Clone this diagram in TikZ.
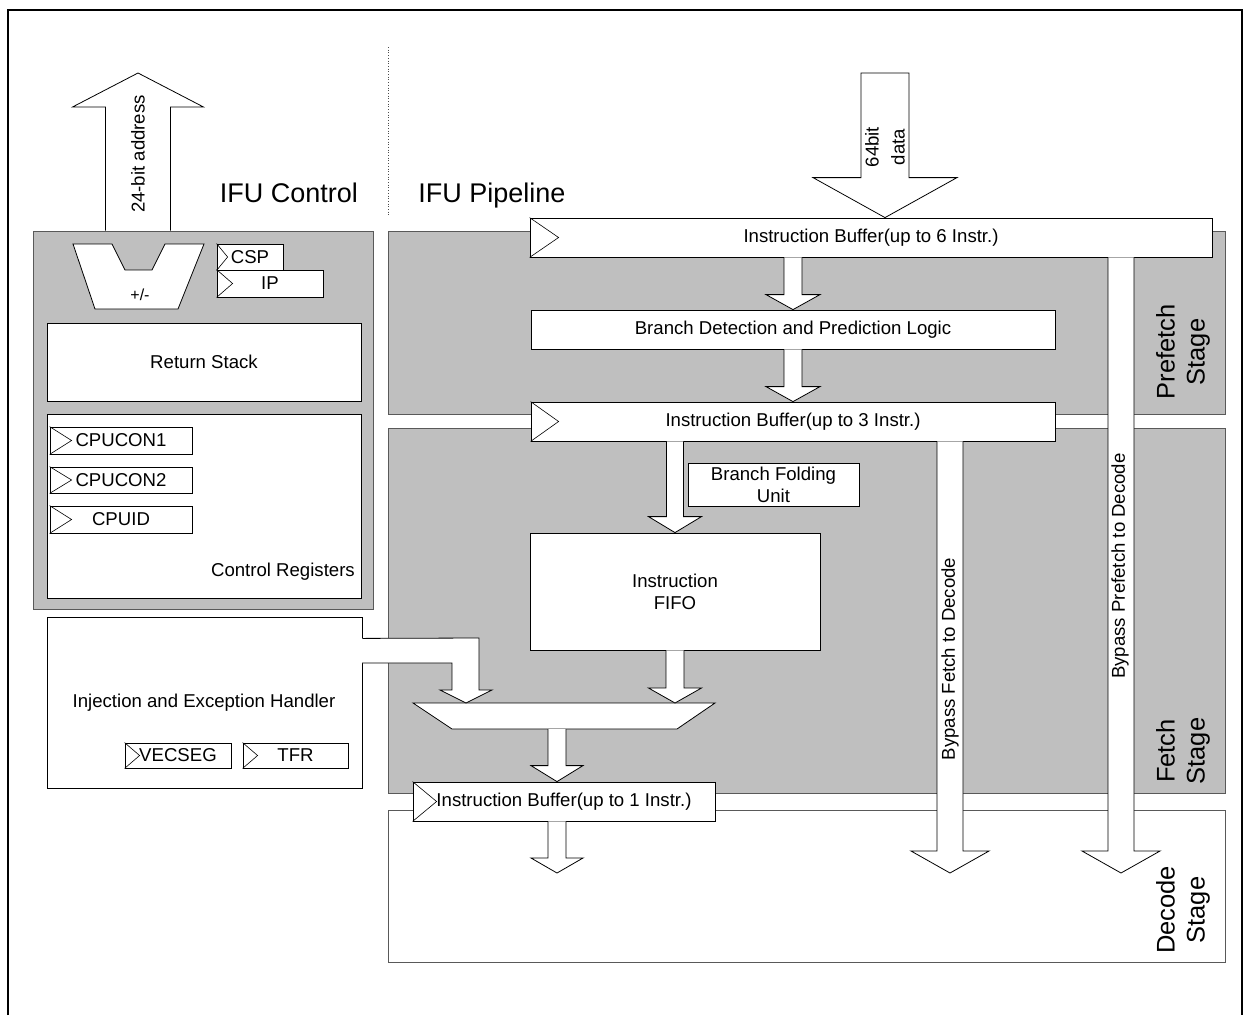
\documentclass[tikz,border=0pt]{standalone}
\usepackage{fontspec}
\setmainfont{Liberation Sans}
\usetikzlibrary{calc}
\newcommand\blockdown[5]{%
  \path[barrow] let \p1=#1, \p2=#2 in
   (\x2-#3pt,\y1) -- (\x2-#3pt,\y2+#5pt) -- (\x2-#4pt,\y2+#5pt) -- (\x2,\y2)
   -- (\x2+#4pt,\y2+#5pt) -- (\x2+#3pt,\y2+#5pt) -- (\x2+#3pt,\y1);}
\newcommand\blockdownc[5]{%
  \path[barrow] let \p1=#1, \p2=#2 in
   (\x2-#3pt,\y1) -- (\x2-#3pt,\y2+#5pt) -- (\x2-#4pt,\y2+#5pt) -- (\x2,\y2)
   -- (\x2+#4pt,\y2+#5pt) -- (\x2+#3pt,\y2+#5pt) -- (\x2+#3pt,\y1) -- cycle;}
\newcommand\blockup[5]{%
  \path[barrow] let \p1=#1, \p2=#2 in
   (\x2-#3pt,\y1) -- (\x2-#3pt,\y2-#5pt) -- (\x2-#4pt,\y2-#5pt) -- (\x2,\y2)
   -- (\x2+#4pt,\y2-#5pt) -- (\x2+#3pt,\y2-#5pt) -- (\x2+#3pt,\y1);}
\newcommand\clk[2]{\draw[line width=0.6pt] (#1.north west) -- ($(#1.west)+(#2,0)$) -- (#1.south west);}
\begin{document}
\begin{tikzpicture}[x=1pt,y=-1pt,
  every node/.style={font=\fontsize{18.6}{22}\selectfont, inner sep=0pt},
  wbox/.style={draw=black, fill=white, line width=0.8pt},
  gbox/.style={draw=black!65, fill=black!25, line width=0.8pt},
  barrow/.style={draw=black, fill=white, line width=0.8pt, line join=miter},
  bigtxt/.style={font=\fontsize{27}{30}\selectfont, anchor=base},
  stagelbl/.style={font=\fontsize{25.5}{30}\selectfont, rotate=90, align=center},
  rotlbl/.style={rotate=90, align=center},
]
\useasboundingbox (0,0) rectangle (1244,1015);
% outer frame
\draw[line width=2pt] (8,1015) -- (8,10) -- (1242,10) -- (1242,1015);
\draw[dotted, line width=0.7pt, black!70] (388,47) -- (388,217);

% stage / region boxes
\node[gbox, minimum width=340, minimum height=378] (ctrl) at (203,420) {};
\node[gbox, minimum width=837, minimum height=183] (prefetch) at (806.5,322.5) {};
\node[gbox, minimum width=837, minimum height=365] (fetch) at (806.5,610.5) {};
\node[draw=black!65, fill=white, line width=0.8pt, minimum width=837, minimum height=152] (decode) at (806.5,886) {};

% titles
\node[bigtxt] (ifuc) at (289,202) {IFU Control};
\node[bigtxt] (ifup) at (492,202) {IFU Pipeline};

% address arrow
\coordinate (addrtip) at (138,73);
\blockup{(addrtip |- ctrl.north)}{(addrtip)}{32.5}{65.5}{34}
\node[rotlbl] (addrlbl) at (138,154) {24-bit address};

% +/- unit
\draw[barrow] (73,244) -- (112,244) -- (125,270) -- (152,270) -- (165,244) -- (204,244) -- (178,309) -- (95,309) -- cycle;
\node[font=\fontsize{16}{18}\selectfont] (pm) at (140,295) {+/-};

% CSP / IP
\node[wbox, minimum width=66, minimum height=26] (csp) at (250,257) {CSP};
\node[wbox, minimum width=106, minimum height=27] (ip) at (270,283.5) {IP};
\clk{csp}{11}
\clk{ip}{16}

% return stack and control registers
\node[wbox, minimum width=314, minimum height=78] (rs) at (204,362) {Return Stack};
\node[wbox, minimum width=314, minimum height=184] (cregs) at (204,506) {};
\node[anchor=east] (creglbl) at (355,572) {Control Registers};
\node[wbox, minimum width=142, minimum height=27] (cpucon1) at (121,440.5) {CPUCON1};
\node[wbox, minimum width=142, minimum height=26] (cpucon2) at (121,480) {CPUCON2};
\node[wbox, minimum width=142, minimum height=27] (cpuid) at (121,519.5) {CPUID};
\clk{cpucon1}{22}
\clk{cpucon2}{22}
\clk{cpuid}{22}

% injection handler
\node[wbox, minimum width=315, minimum height=171] (inj) at (204.5,702.5) {};
\node (injlbl) at (204,703) {Injection and Exception Handler};
\node[wbox, minimum width=106, minimum height=25] (vecseg) at (178,755.5) {VECSEG};
\node[wbox, minimum width=105, minimum height=25] (tfr) at (295.5,755.5) {TFR};
\clk{vecseg}{15}
\clk{tfr}{15}

% pipeline boxes
\node[wbox, minimum width=682, minimum height=39] (ib6) at (871,237.5) {Instruction Buffer(up to 6 Instr.)};
\node[wbox, minimum width=524, minimum height=39] (bd) at (793,329.5) {Branch Detection and Prediction Logic};
\node[wbox, minimum width=524, minimum height=39] (ib3) at (793,421.5) {Instruction Buffer(up to 3 Instr.)};
\node[wbox, minimum width=171, minimum height=43, align=center] (bfu) at (773.5,484.5) {Branch Folding\\Unit};
\node[wbox, minimum width=290, minimum height=117, align=center] (fifo) at (675,591.5) {Instruction\\FIFO};
\clk{ib6}{29}
\clk{ib3}{28}

% 64 bit data arrow
\coordinate (datatop) at (885,73);
\blockdownc{(datatop)}{(datatop |- ib6.north)}{24}{72}{40}
\node[rotlbl, font=\fontsize{18.6}{26}\selectfont] (datalbl) at (885,147) {64bit\\data};

% arrows in prefetch / fetch
\blockdown{(bd.north |- ib6.south)}{(bd.north)}{9}{27}{15}
\blockdown{(bd.south)}{(ib3.north)}{9}{27}{15}
\blockdown{(fifo.north |- ib3.south)}{(fifo.north)}{8.5}{26.5}{16}

% multiplexer
\draw[barrow] (413,703) -- (715,703) -- (677,729) -- (452,729) -- cycle;
\coordinate (muxin1) at (466,703);
\coordinate (muxin2) at (675,703);
\coordinate (muxout) at (557,729);
\blockdown{(fifo.south)}{(muxin2)}{9}{26.5}{15}

% injection -> mux bent arrow
\path[fill=white] (362,638) -- (479,638) -- (479,690) -- (492,690) -- (466,703) -- (440,690) -- (452,690) -- (452,663) -- (362,663) -- cycle;
\draw[line width=0.8pt, line join=miter] (inj.east |- ctrl.south) ++(0,29) -- (479,638) -- (479,690) -- (492,690) -- (muxin1) -- (440,690) -- (452,690) -- (452,663) -- (362,663);

% IB1 and arrows
\node[wbox, minimum width=302, minimum height=39] (ib1) at (564,801.5) {Instruction Buffer(up to 1 Instr.)};
\clk{ib1}{24}
\blockdown{(muxout)}{(muxout |- ib1.north)}{9}{26}{16}
\coordinate (out1) at (557,873);
\blockdown{(out1 |- ib1.south)}{(out1)}{9}{26}{15}

% bypass arrows
\coordinate (bfend) at (950,873);
\coordinate (bpend) at (1121,873);
\blockdown{(bfend |- ib3.south)}{(bfend)}{13}{39}{22}
\blockdown{(bpend |- ib6.south)}{(bpend)}{13}{39}{22}
\node[rotlbl] (bflbl) at (950,659) {Bypass Fetch to Decode};
\node[rotlbl] (bplbl) at (1120,566) {Bypass Prefetch to Decode};

% stage labels
\node[stagelbl] (pslbl) at (1183,352) {Prefetch\\Stage};
\node[stagelbl] (fslbl) at (1183,751) {Fetch\\Stage};
\node[stagelbl] (dslbl) at (1183,910) {Decode\\Stage};
\end{tikzpicture}
\end{document}
